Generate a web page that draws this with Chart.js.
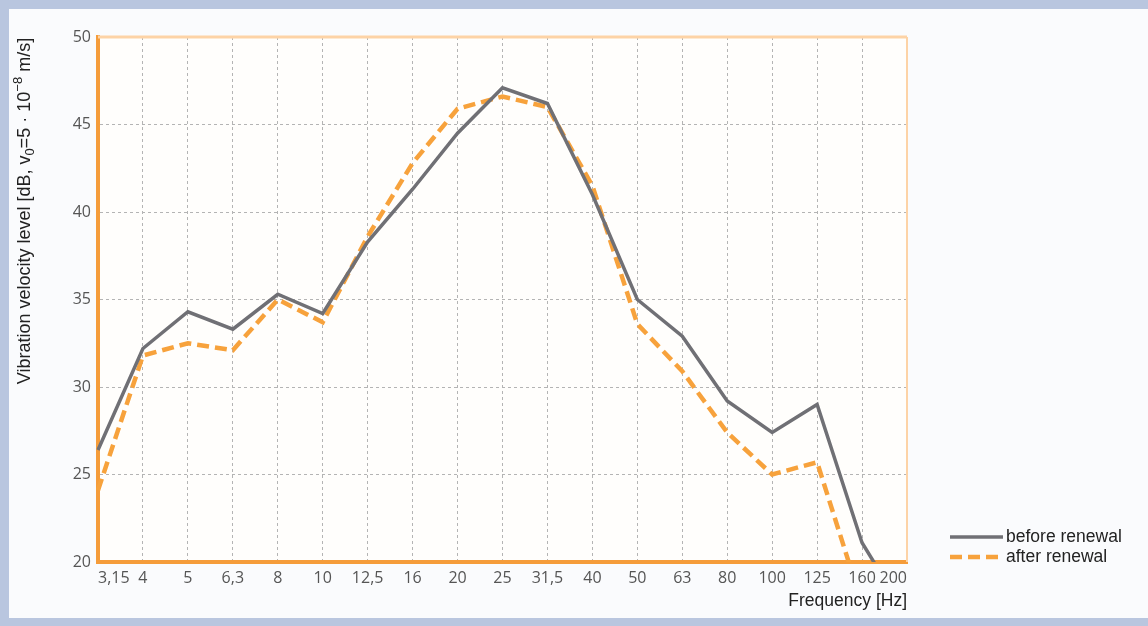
<!DOCTYPE html>
<html>
<head>
<meta charset="utf-8">
<script src="https://cdn.jsdelivr.net/npm/chart.js@4.4.0/dist/chart.umd.min.js"></script>
<style>
  html, body { margin: 0; padding: 0; }
  body { width: 1148px; height: 626px; background: #b9c6df; position: relative; overflow: hidden; }
  #panel { position: absolute; left: 9px; top: 9px; width: 1139px; height: 609px; background: #fafbfd; }
  #chart { position: absolute; left: 0; top: 0; }
</style>
</head>
<body>
<div id="panel"></div>
<canvas id="chart" width="1148" height="626"></canvas>
<script>
var frequencies = ['3,15', '4', '5', '6,3', '8', '10', '12,5', '16', '20', '25', '31,5', '40', '50', '63', '80', '100', '125', '160', '200'];
var beforeRenewal = [26.4, 32.2, 34.3, 33.3, 35.3, 34.2, 38.3, 41.3, 44.5, 47.1, 46.2, 41.0, 35.0, 32.9, 29.2, 27.4, 29.0, 21.1, 16.9];
var afterRenewal = [24.1, 31.8, 32.5, 32.1, 35.0, 33.7, 38.6, 42.8, 45.9, 46.6, 46.0, 41.5, 33.6, 30.9, 27.4, 25.0, 25.7, 17.6, 15.0];
var yTicks = [20, 25, 30, 35, 40, 45, 50];

var narrowFont = '"Liberation Sans Narrow", "Liberation Sans", sans-serif';

// plot background + light top/right frame
var framePlugin = {
    id: 'frame',
    beforeDraw: function(chart) {
        var a = chart.chartArea, ctx = chart.ctx;
        ctx.save();
        ctx.fillStyle = '#fffefc';
        ctx.fillRect(a.left, a.top, a.right - a.left, a.bottom - a.top);
        ctx.restore();
    },
    beforeDatasetsDraw: function(chart) {
        var a = chart.chartArea, ctx = chart.ctx;
        ctx.save();
        ctx.strokeStyle = '#fdd3a6';
        ctx.lineWidth = 3;
        ctx.beginPath();
        ctx.moveTo(a.left, a.top);
        ctx.lineTo(a.right, a.top);
        ctx.stroke();
        ctx.lineWidth = 2;
        ctx.beginPath();
        ctx.moveTo(a.right, a.top);
        ctx.lineTo(a.right, a.bottom);
        ctx.stroke();
        ctx.restore();
    }
};

// y title with subscript / superscript
var yTitlePlugin = {
    id: 'yTitle',
    afterDraw: function(chart) {
        var ctx = chart.ctx;
        var parts = [
            { t: 'Vibration velocity level [dB, v', size: 18, dy: 0 },
            { t: '0', size: 13, dy: 4 },
            { t: '=5 \u00b7 10', size: 18, dy: 0 },
            { t: '\u22128', size: 13, dy: -8 },
            { t: ' m/s]', size: 18, dy: 0 }
        ];
        ctx.save();
        ctx.translate(30, 211);
        ctx.rotate(-Math.PI / 2);
        ctx.fillStyle = '#222';
        ctx.textBaseline = 'alphabetic';
        ctx.textAlign = 'left';
        var total = 0;
        parts.forEach(function(p) {
            ctx.font = p.size + 'px ' + narrowFont;
            p.w = ctx.measureText(p.t).width;
            total += p.w;
        });
        var x = -total / 2;
        parts.forEach(function(p) {
            ctx.font = p.size + 'px ' + narrowFont;
            ctx.fillText(p.t, x, p.dy);
            x += p.w;
        });
        ctx.restore();
    }
};

var legendPlugin = {
    id: 'sideLegend',
    afterDraw: function(chart) {
        var ctx = chart.ctx;
        ctx.save();
        chart.data.datasets.forEach(function(ds, i) {
            var y = 537 + i * 20;
            ctx.strokeStyle = ds.borderColor;
            ctx.lineWidth = ds.borderWidth;
            ctx.setLineDash(ds.borderDash || []);
            ctx.beginPath();
            ctx.moveTo(950, y);
            ctx.lineTo(1003, y);
            ctx.stroke();
            ctx.setLineDash([]);
            ctx.fillStyle = '#222';
            ctx.font = '17.5px ' + narrowFont;
            ctx.textBaseline = 'middle';
            ctx.fillText(ds.label, 1006, y);
        });
        ctx.restore();
    }
};

var ctx = document.getElementById('chart').getContext('2d');
var chart = new Chart(ctx, {
    type: 'line',
    data: {
        labels: frequencies,
        datasets: [{
            label: 'before renewal',
            data: beforeRenewal,
            borderColor: '#707075',
            borderWidth: 3.5,
            pointRadius: 0,
            tension: 0,
            fill: false
        }, {
            label: 'after renewal',
            data: afterRenewal,
            borderColor: '#f7a23c',
            borderWidth: 4.5,
            borderDash: [12, 6],
            pointRadius: 0,
            tension: 0,
            fill: false
        }]
    },
    options: {
        responsive: false,
        animation: false,
        devicePixelRatio: 1,
        layout: { padding: { top: 37, right: 241, bottom: 0, left: 0 } },
        plugins: {
            legend: { display: false },
            tooltip: { enabled: false }
        },
        scales: {
            x: {
                type: 'category',
                offset: false,
                afterFit: function(scale) { scale.height = 64; },
                grid: { color: '#b4b4b4', lineWidth: 1, drawTicks: false },
                border: { display: true, color: '#f59c3a', width: 4, dash: [3, 3] },
                ticks: {
                    autoSkip: false,
                    maxRotation: 0,
                    align: 'inner',
                    padding: 7,
                    color: '#555',
                    font: { family: '"Open Sans", sans-serif', size: 16 }
                },
                title: {
                    display: true,
                    text: 'Frequency [Hz]',
                    align: 'end',
                    color: '#222',
                    font: { family: narrowFont, size: 17.5 },
                    padding: { top: 0, bottom: 14 }
                }
            },
            y: {
                min: yTicks[0],
                max: yTicks[yTicks.length - 1],
                afterFit: function(scale) { scale.width = 98; },
                grid: { color: '#b4b4b4', lineWidth: 1, drawTicks: false },
                border: { display: true, color: '#f59c3a', width: 4, dash: [3, 3] },
                ticks: {
                    stepSize: 5,
                    padding: 7,
                    color: '#555',
                    font: { family: '"Open Sans", sans-serif', size: 16 }
                }
            }
        }
    },
    plugins: [framePlugin, yTitlePlugin, legendPlugin]
});
</script>
</body>
</html>
